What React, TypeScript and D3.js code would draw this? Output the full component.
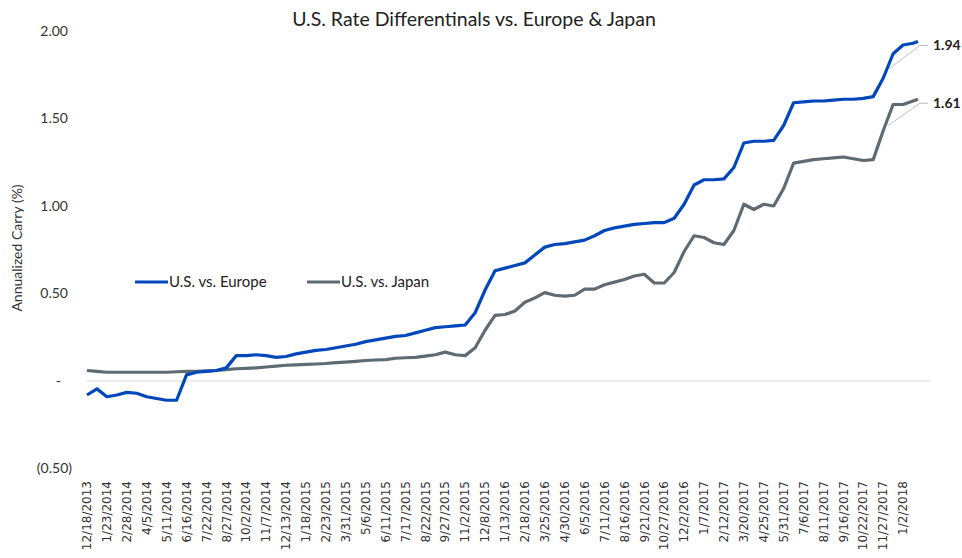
import React, { useEffect, useRef } from "react";
import * as d3 from "d3";

const title = "U.S. Rate Differentinals vs. Europe & Japan";
const yAxisTitle = "Annualized Carry (%)";
const seriesNames = ["U.S. vs. Europe", "U.S. vs. Japan"];
const seriesColors = ["#0047bb", "#5f6b73"];

// sampled every 18 days from the first date, last point on the final date
const startDate = "2013-12-18";
const endDate = "2018-01-29";
const sampleStepDays = 18;

const europe = [
  -0.08, -0.045, -0.09, -0.08, -0.065, -0.07, -0.09, -0.1, -0.11, -0.11,
  0.035, 0.05, 0.055, 0.06, 0.075, 0.145, 0.145, 0.15, 0.145, 0.135,
  0.14, 0.155, 0.165, 0.175, 0.18, 0.19, 0.2, 0.21, 0.225, 0.235,
  0.245, 0.255, 0.26, 0.275, 0.29, 0.305, 0.31, 0.315, 0.32, 0.39,
  0.52, 0.63, 0.645, 0.66, 0.675, 0.72, 0.765, 0.78, 0.785, 0.795,
  0.805, 0.83, 0.86, 0.875, 0.885, 0.895, 0.9, 0.905, 0.905, 0.93,
  1.01, 1.12, 1.15, 1.15, 1.155, 1.22, 1.36, 1.37, 1.37, 1.375,
  1.46, 1.59, 1.595, 1.6, 1.6, 1.605, 1.61, 1.61, 1.615, 1.625,
  1.73, 1.87, 1.92, 1.93, 1.94
];

const japan = [
  0.06, 0.055, 0.05, 0.05, 0.05, 0.05, 0.05, 0.05, 0.05, 0.053,
  0.055, 0.055, 0.058, 0.06, 0.065, 0.07, 0.072, 0.075, 0.08, 0.085,
  0.09, 0.092, 0.095, 0.097, 0.1, 0.105, 0.108, 0.112, 0.117, 0.12,
  0.122, 0.13, 0.133, 0.135, 0.142, 0.15, 0.165, 0.15, 0.145, 0.19,
  0.29, 0.375, 0.38, 0.4, 0.45, 0.475, 0.505, 0.49, 0.485, 0.49,
  0.525, 0.525, 0.55, 0.565, 0.58, 0.6, 0.61, 0.56, 0.56, 0.62,
  0.74, 0.83, 0.82, 0.79, 0.78, 0.86, 1.01, 0.98, 1.01, 1.0,
  1.1, 1.245, 1.255, 1.265, 1.27, 1.275, 1.28, 1.27, 1.26, 1.265,
  1.43, 1.58, 1.58, 1.6, 1.61
];

const yTicks = [-0.5, 0, 0.5, 1, 1.5, 2];
const yTickLabels = ["(0.50)", "-", "0.50", "1.00", "1.50", "2.00"];
const xTickStepDays = 36;
const xTickCount = 42;
const endLabels = ["1.94", "1.61"];
// where the data label leader lines touch each series
const leaderDate = "2017-12-06";
const leaderValues = [1.78, 1.46];

const parse = d3.timeParse("%Y-%m-%d");
const fmt = d3.timeFormat("%-m/%-d/%Y");

export default function App() {
  const ref = useRef<SVGSVGElement>(null);

  useEffect(() => {
    const svg = d3.select(ref.current);
    svg.selectAll("*").remove();

    const start = parse(startDate)!;
    const end = parse(endDate)!;
    const dates = europe.map((_, i) =>
      i === europe.length - 1 ? end : d3.timeDay.offset(start, i * sampleStepDays)
    );

    const x = d3.scaleTime().domain([start, end]).range([87, 918]);
    const y = d3.scaleLinear().domain([-0.5, 2]).range([468.5, 31]);

    const font = "Lato, 'Open Sans', sans-serif";

    svg
      .append("text")
      .attr("x", 474)
      .attr("y", 26)
      .attr("text-anchor", "middle")
      .style("font-family", font)
      .style("font-size", "19.5px")
      .style("fill", "#222")
      .text(title);

    // zero line
    svg
      .append("line")
      .attr("x1", 87)
      .attr("x2", 930)
      .attr("y1", y(0))
      .attr("y2", y(0))
      .style("stroke", "#d9d9d9")
      .style("stroke-width", 1);

    // y tick labels (accounting style)
    svg
      .selectAll(".ytick")
      .data(yTicks)
      .enter()
      .append("text")
      .attr("class", "ytick")
      .attr("x", (d) => (d < 0 ? 72 : d === 0 ? 61 : 68))
      .attr("y", (d) => y(d))
      .attr("dy", "0.35em")
      .attr("text-anchor", "end")
      .style("font-family", font)
      .style("font-size", "14px")
      .style("fill", "#333")
      .text((d, i) => yTickLabels[i]);

    svg
      .append("text")
      .attr("transform", "translate(22,248) rotate(-90)")
      .attr("text-anchor", "middle")
      .style("font-family", font)
      .style("font-size", "14px")
      .style("fill", "#333")
      .text(yAxisTitle);

    // x tick labels
    const xTicks = d3.range(xTickCount).map((i) => d3.timeDay.offset(start, i * xTickStepDays));
    svg
      .selectAll(".xtick")
      .data(xTicks)
      .enter()
      .append("text")
      .attr("class", "xtick")
      .attr("transform", (d) => "translate(" + x(d) + ",481) rotate(-90)")
      .attr("dy", "0.35em")
      .attr("text-anchor", "end")
      .style("font-family", "'DejaVu Sans', sans-serif")
      .style("font-size", "12px")
      .style("fill", "#333")
      .text((d) => fmt(d));

    // lines, Japan under Europe
    const line = d3
      .line<number>()
      .x((d, i) => x(dates[i]))
      .y((d) => y(d));

    [japan, europe].forEach((values, k) => {
      svg
        .append("path")
        .attr("d", line(values))
        .style("fill", "none")
        .style("stroke", seriesColors[1 - k])
        .style("stroke-width", 3.2)
        .style("stroke-linejoin", "round");
    });

    // end labels with leader lines
    const lastValues = [europe[europe.length - 1], japan[japan.length - 1]];
    const ld = parse(leaderDate)!;
    lastValues.forEach((v, k) => {
      const ly = y(v) + 4;
      svg
        .append("path")
        .attr("d", "M928," + ly + "L920," + ly + "L" + x(ld) + "," + y(leaderValues[k]))
        .style("fill", "none")
        .style("stroke", "#bfbfbf")
        .style("stroke-width", 1);
      svg
        .append("text")
        .attr("x", 933)
        .attr("y", ly)
        .attr("dy", "0.35em")
        .style("font-family", font)
        .style("font-size", "14px")
        .style("font-weight", "bold")
        .style("fill", "#222")
        .text(endLabels[k]);
    });

    // legend
    const legendX = [135, 307];
    seriesNames.forEach((name, k) => {
      svg
        .append("line")
        .attr("x1", legendX[k])
        .attr("x2", legendX[k] + 33)
        .attr("y1", 282)
        .attr("y2", 282)
        .style("stroke", seriesColors[k])
        .style("stroke-width", 3);
      svg
        .append("text")
        .attr("x", legendX[k] + 34)
        .attr("y", 282)
        .attr("dy", "0.35em")
        .style("font-family", font)
        .style("font-size", "15px")
        .style("fill", "#222")
        .text(name);
    });
  }, []);

  return (
    <svg
      ref={ref}
      width={962}
      height={558}
      style={{ position: "absolute", left: 0, top: 0, background: "#fff" }}
    />
  );
}
